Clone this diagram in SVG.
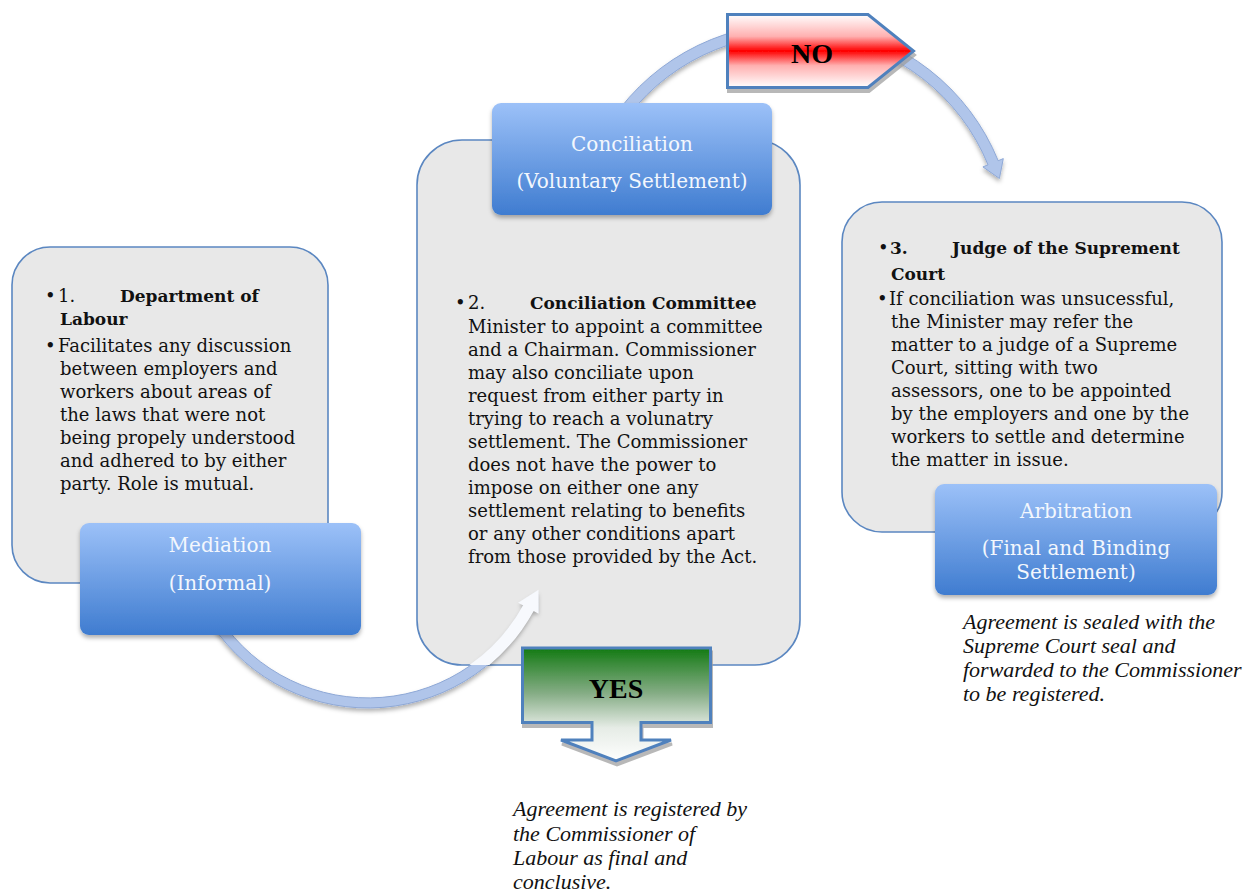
<svg xmlns="http://www.w3.org/2000/svg" width="1260" height="893" viewBox="0 0 1260 893">
<defs>
  <linearGradient id="blueGrad" x1="0" y1="0" x2="0" y2="1">
    <stop offset="0" stop-color="#9cc1f8"/>
    <stop offset="1" stop-color="#3f7cd0"/>
  </linearGradient>
  <linearGradient id="redGrad" x1="0" y1="0" x2="0" y2="1">
    <stop offset="0" stop-color="#ffffff"/>
    <stop offset="0.3" stop-color="#ffb0b0"/>
    <stop offset="0.5" stop-color="#ff0000"/>
    <stop offset="0.7" stop-color="#ffb0b0"/>
    <stop offset="1" stop-color="#ffffff"/>
  </linearGradient>
  <linearGradient id="greenGrad" gradientUnits="userSpaceOnUse" x1="0" y1="648" x2="0" y2="762">
    <stop offset="0" stop-color="#137a13"/>
    <stop offset="0.4" stop-color="#86ad86"/>
    <stop offset="0.7" stop-color="#e6ece6"/>
    <stop offset="1" stop-color="#ffffff"/>
  </linearGradient>
  <filter id="shadow" x="-10%" y="-10%" width="120%" height="130%">
    <feDropShadow dx="0" dy="3" stdDeviation="2" flood-color="#000000" flood-opacity="0.3"/>
  </filter>
  <filter id="flagShadow" x="-10%" y="-10%" width="120%" height="130%">
    <feDropShadow dx="1" dy="4" stdDeviation="0.6" flood-color="#9a9a9a" flood-opacity="0.7"/>
  </filter>
  <clipPath id="box2clip">
    <rect x="417" y="140" width="383" height="525" rx="45"/>
  </clipPath>
  <style>
    .detail { fill: #e8e8e8; stroke: #5b87c1; stroke-width: 1.6; }
    .label { fill: url(#blueGrad); filter: url(#shadow); }
    .lt { font-family: "DejaVu Serif", serif; font-size: 20px; fill: #f3f7fd; text-anchor: middle; }
    .bt { font-family: "DejaVu Serif", serif; font-size: 18px; fill: #111111; }
    .bh { font-weight: bold; font-size: 17px; }
    .it { font-family: "Liberation Serif", serif; font-style: italic; font-size: 22px; fill: #111111; }
    .conn { fill: #b0c5ea; stroke: #8ea8d6; stroke-width: 1; filter: url(#shadow); }
    .connIn { fill: #f7f9fd; stroke: #f7f9fd; stroke-width: 2; }
    .flag { stroke: #4f81bd; stroke-width: 3; stroke-linejoin: miter; filter: url(#flagShadow); }
    .flagText { font-family: "Liberation Serif", serif; font-weight: bold; font-size: 28px; text-anchor: middle; fill: #000000; }
  </style>
</defs>

<rect x="0" y="0" width="1260" height="893" fill="#ffffff"/>

<!-- detail boxes -->
<g id="node-department-detail">
  <rect class="detail" x="12" y="247" width="316" height="336" rx="38"/>
  <text class="bt" x="45" y="302">•</text>
  <text class="bt" x="58" y="302">1.</text>
  <text class="bt bh" x="120" y="302">Department of</text>
  <text class="bt bh" x="60" y="325">Labour</text>
  <text class="bt" x="45" y="352">•</text>
  <text class="bt" x="58" y="352">Facilitates any discussion</text>
  <text class="bt" x="60" y="375">between employers and</text>
  <text class="bt" x="60" y="398">workers about areas of</text>
  <text class="bt" x="60" y="421">the laws that were not</text>
  <text class="bt" x="60" y="444">being propely understood</text>
  <text class="bt" x="60" y="467">and adhered to by either</text>
  <text class="bt" x="60" y="490">party. Role is mutual.</text>
</g>

<g id="node-committee-detail">
  <rect class="detail" x="417" y="140" width="383" height="525" rx="45"/>
  <text class="bt" x="455" y="309">•</text>
  <text class="bt" x="468" y="309">2.</text>
  <text class="bt bh" x="530" y="309">Conciliation Committee</text>
  <text class="bt" x="468" y="333">Minister to appoint a committee</text>
  <text class="bt" x="468" y="356">and a Chairman. Commissioner</text>
  <text class="bt" x="468" y="379">may also conciliate upon</text>
  <text class="bt" x="468" y="402">request from either party in</text>
  <text class="bt" x="468" y="425">trying to reach a volunatry</text>
  <text class="bt" x="468" y="448">settlement. The Commissioner</text>
  <text class="bt" x="468" y="471">does not have the power to</text>
  <text class="bt" x="468" y="494">impose on either one any</text>
  <text class="bt" x="468" y="517">settlement relating  to benefits</text>
  <text class="bt" x="468" y="540">or any other conditions apart</text>
  <text class="bt" x="468" y="563">from those provided by the Act.</text>
</g>

<g id="node-judge-detail">
  <rect class="detail" x="842" y="202" width="380" height="330" rx="40"/>
  <text class="bt" x="878" y="254">•</text>
  <text class="bt bh" x="890" y="254">3.</text>
  <text class="bt bh" x="952" y="254">Judge of the Suprement</text>
  <text class="bt bh" x="891" y="280">Court</text>
  <text class="bt" x="877" y="305">•</text>
  <text class="bt" x="889" y="305">If conciliation was unsucessful,</text>
  <text class="bt" x="891" y="328">the Minister may refer the</text>
  <text class="bt" x="891" y="351">matter to a judge of a Supreme</text>
  <text class="bt" x="891" y="374">Court, sitting with two</text>
  <text class="bt" x="891" y="397">assessors, one to be appointed</text>
  <text class="bt" x="891" y="420">by the employers and one by the</text>
  <text class="bt" x="891" y="443">workers to settle and determine</text>
  <text class="bt" x="891" y="466">the matter in issue.</text>
</g>

<!-- connectors -->
<g id="connectors">
  <path class="conn" d="M 205.2,614 A 188 188 0 0 0 533.2,609.7 L 537.6,612.1 L 537.5,591.5 L 520,602.6 L 524.4,604.9 A 178 178 0 0 1 213.9,609 Z"/>
  <path class="connIn" clip-path="url(#box2clip)" d="M 205.2,614 A 188 188 0 0 0 533.2,609.7 L 537.6,612.1 L 537.5,591.5 L 520,602.6 L 524.4,604.9 A 178 178 0 0 1 213.9,609 Z"/>
  <path class="conn" d="M 620.2,108.2 A 220.5 220.5 0 0 1 998.2,160.7 L 1003.3,158.6 L 999.4,178.5 L 982.9,166.9 L 988,164.8 A 209.5 209.5 0 0 0 628.9,115 Z"/>
</g>

<!-- label boxes -->
<g id="node-mediation">
  <rect class="label" x="80" y="523" width="281" height="112" rx="9"/>
  <text class="lt" x="220" y="552">Mediation</text>
  <text class="lt" x="220" y="590">(Informal)</text>
</g>

<g id="node-conciliation">
  <rect class="label" x="492" y="103" width="280" height="112" rx="9"/>
  <text class="lt" x="632" y="151">Conciliation</text>
  <text class="lt" x="632" y="188">(Voluntary Settlement)</text>
</g>

<g id="node-arbitration">
  <rect class="label" x="935" y="484" width="282" height="111" rx="9"/>
  <text class="lt" x="1076" y="518">Arbitration</text>
  <text class="lt" x="1076" y="555">(Final and Binding</text>
  <text class="lt" x="1076" y="579">Settlement)</text>
</g>

<!-- decision flags -->
<g id="node-no">
  <path class="flag" fill="url(#redGrad)" d="M 727.5,14.5 L 868,14.5 L 913.5,51 L 868,87.5 L 727.5,87.5 Z"/>
  <text class="flagText" x="812" y="63">NO</text>
</g>

<g id="node-yes">
  <path class="flag" fill="url(#greenGrad)" d="M 522.5,648 L 710.5,648 L 710.5,722.5 L 641,722.5 L 641,740 L 671,740 L 616,761 L 561,740 L 592,740 L 592,722.5 L 522.5,722.5 Z"/>
  <text class="flagText" x="616" y="698">YES</text>
</g>

<!-- outcome notes -->
<g id="note-registered">
  <text class="it" x="513" y="816">Agreement is registered by</text>
  <text class="it" x="513" y="841">the Commissioner of</text>
  <text class="it" x="513" y="865">Labour as final and</text>
  <text class="it" x="513" y="889">conclusive.</text>
</g>

<g id="note-sealed">
  <text class="it" x="963" y="629">Agreement is sealed with the</text>
  <text class="it" x="963" y="653">Supreme Court seal and</text>
  <text class="it" x="963" y="677">forwarded to the Commissioner</text>
  <text class="it" x="963" y="701">to be registered.</text>
</g>
</svg>
